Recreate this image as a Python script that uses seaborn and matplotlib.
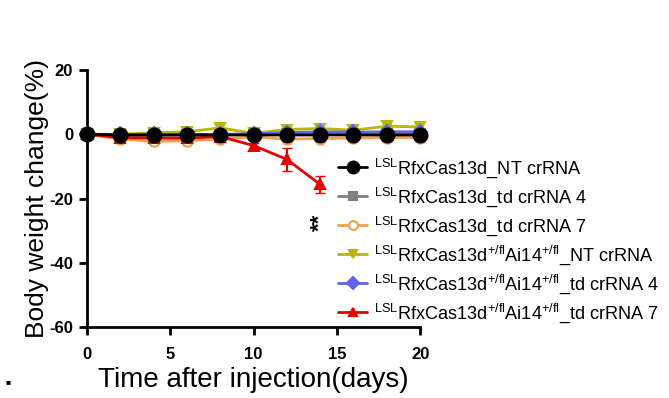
import numpy as np
import pandas as pd
import matplotlib
matplotlib.use("Agg")
from matplotlib import pyplot as plt
import seaborn as sns

sns.set_style("ticks")
plt.rcParams['font.family'] = ['Liberation Sans', 'DejaVu Sans']
plt.rcParams['mathtext.fontset'] = 'custom'
plt.rcParams['mathtext.rm'] = 'Liberation Sans'
plt.rcParams['axes.unicode_minus'] = False
plt.rcParams['text.color'] = 'black'
plt.rcParams['axes.labelcolor'] = 'black'
plt.rcParams['xtick.color'] = 'black'
plt.rcParams['ytick.color'] = 'black'
plt.rcParams['axes.edgecolor'] = 'black'

days = [0, 2, 4, 6, 8, 10, 12, 14, 16, 18, 20]
red_days = [0, 2, 4, 6, 8, 10, 12, 14]

labels = [
    r"$^{\mathrm{LSL}}$RfxCas13d_NT crRNA",
    r"$^{\mathrm{LSL}}$RfxCas13d_td crRNA 4",
    r"$^{\mathrm{LSL}}$RfxCas13d_td crRNA 7",
    r"$^{\mathrm{LSL}}$RfxCas13d$^{\mathrm{+/fl}}$Ai14$^{\mathrm{+/fl}}$_NT crRNA",
    r"$^{\mathrm{LSL}}$RfxCas13d$^{\mathrm{+/fl}}$Ai14$^{\mathrm{+/fl}}$_td crRNA 4",
    r"$^{\mathrm{LSL}}$RfxCas13d$^{\mathrm{+/fl}}$Ai14$^{\mathrm{+/fl}}$_td crRNA 7",
]

nt_ctrl = [0, -0.2, -0.2, -0.2, -0.2, -0.2, -0.2, -0.2, -0.2, -0.2, -0.2]
td4_ctrl = [0, -0.3, -0.3, -0.2, -0.2, 0, 0, 0, 0, 0, 0]
td7_ctrl = [0, -1.5, -2.2, -2.0, -1.5, -0.8, -1.5, -1.3, -1.2, -1.0, -1.0]
nt_fl = [0, 0, 0.5, 0.8, 2.0, 0.3, 1.5, 1.8, 1.3, 2.5, 2.3]
td4_fl = [0, 0, 0, 0, 0, 0.2, 0.5, 0.8, 0.7, 0.8, 0.8]
td7_fl = [0, -1.0, -1.2, -1.2, -0.7, -3.5, -7.8, -15.6]

td7_ctrl_err = [0, 0.8, 1.2, 1.2, 0.8, 0.6, 1.0, 0.8, 0.6, 0.6, 0.6]
nt_fl_err = [0, 0.5, 0.6, 0.6, 0.8, 0.5, 0.7, 0.8, 0.6, 0.8, 0.8]
td7_fl_err = [0, 0.5, 0.6, 0.6, 0.5, 0.8, 3.5, 2.6]

colors = ["black", "#808080", "#F0A050", "#B8B800", "#6464E6", "#E60000"]
markers = ["o", "s", "o", "v", "D", "^"]

series = [nt_ctrl, td4_ctrl, td7_ctrl, nt_fl, td4_fl, td7_fl]
rows = []
for lab, vals in zip(labels, series):
    xs = red_days if len(vals) == len(red_days) else days
    for d, v in zip(xs, vals):
        rows.append({"day": d, "change": v, "group": lab})
df = pd.DataFrame(rows)

fig = plt.figure(figsize=(6.69, 3.98), dpi=100)
ax = fig.add_axes([0.130, 0.178, 0.498, 0.646])

# error bars first
ax.errorbar(days, td7_ctrl, yerr=td7_ctrl_err, fmt="none", ecolor=colors[2], elinewidth=1.5, capsize=3, zorder=2)
ax.errorbar(days, nt_fl, yerr=nt_fl_err, fmt="none", ecolor=colors[3], elinewidth=1.5, capsize=3, zorder=2)
ax.errorbar(red_days, td7_fl, yerr=td7_fl_err, fmt="none", ecolor=colors[5], elinewidth=1.5, capsize=3.5, zorder=2)

draw_zorder = {2: 3, 1: 4, 3: 5, 4: 6, 5: 7, 0: 8}
for i in range(6):
    sub = df[df.group == labels[i]]
    mfc = "white" if i == 2 else colors[i]
    ms = 10 if i == 0 else 7.5
    sns.lineplot(data=sub, x="day", y="change", ax=ax, color=colors[i], marker=markers[i],
                 markersize=ms, markerfacecolor=mfc, markeredgecolor=colors[i], markeredgewidth=1.5,
                 linewidth=2, errorbar=None, label=labels[i], zorder=draw_zorder[i], clip_on=False)

ax.text(14, -27.5, "**", rotation=90, ha="center", va="center", fontsize=16, fontweight="bold")

ax.set_xlim(0, 20)
ax.set_ylim(-60, 20)
ax.set_xticks([0, 5, 10, 15, 20])
ax.set_yticks([20, 0, -20, -40, -60])
ax.set_xlabel("Time after injection(days)", fontsize=20, labelpad=4)
ax.set_ylabel("Body weight change(%)", fontsize=19, labelpad=0)
for t in ax.get_xticklabels() + ax.get_yticklabels():
    t.set_fontweight("bold")
    t.set_fontsize(12)
ax.tick_params(width=2, length=6)
ax.tick_params(axis="x", pad=8)
ax.tick_params(axis="y", pad=4)
for s in ["left", "bottom"]:
    ax.spines[s].set_linewidth(2)
sns.despine(ax=ax)

handles, labs = ax.get_legend_handles_labels()
order = [labs.index(l) for l in labels]
leg = ax.legend([handles[k] for k in order], [labs[k] for k in order], loc="upper left",
                bbox_to_anchor=(0.481, 0.648), bbox_transform=fig.transFigure, frameon=False,
                fontsize=13.1, handlelength=1.6, handletextpad=0.35, labelspacing=0.3,
                markerscale=0.85)

fig.text(0.008, 0.035, "■", fontsize=6)

fig.savefig("out.png", dpi=100)
